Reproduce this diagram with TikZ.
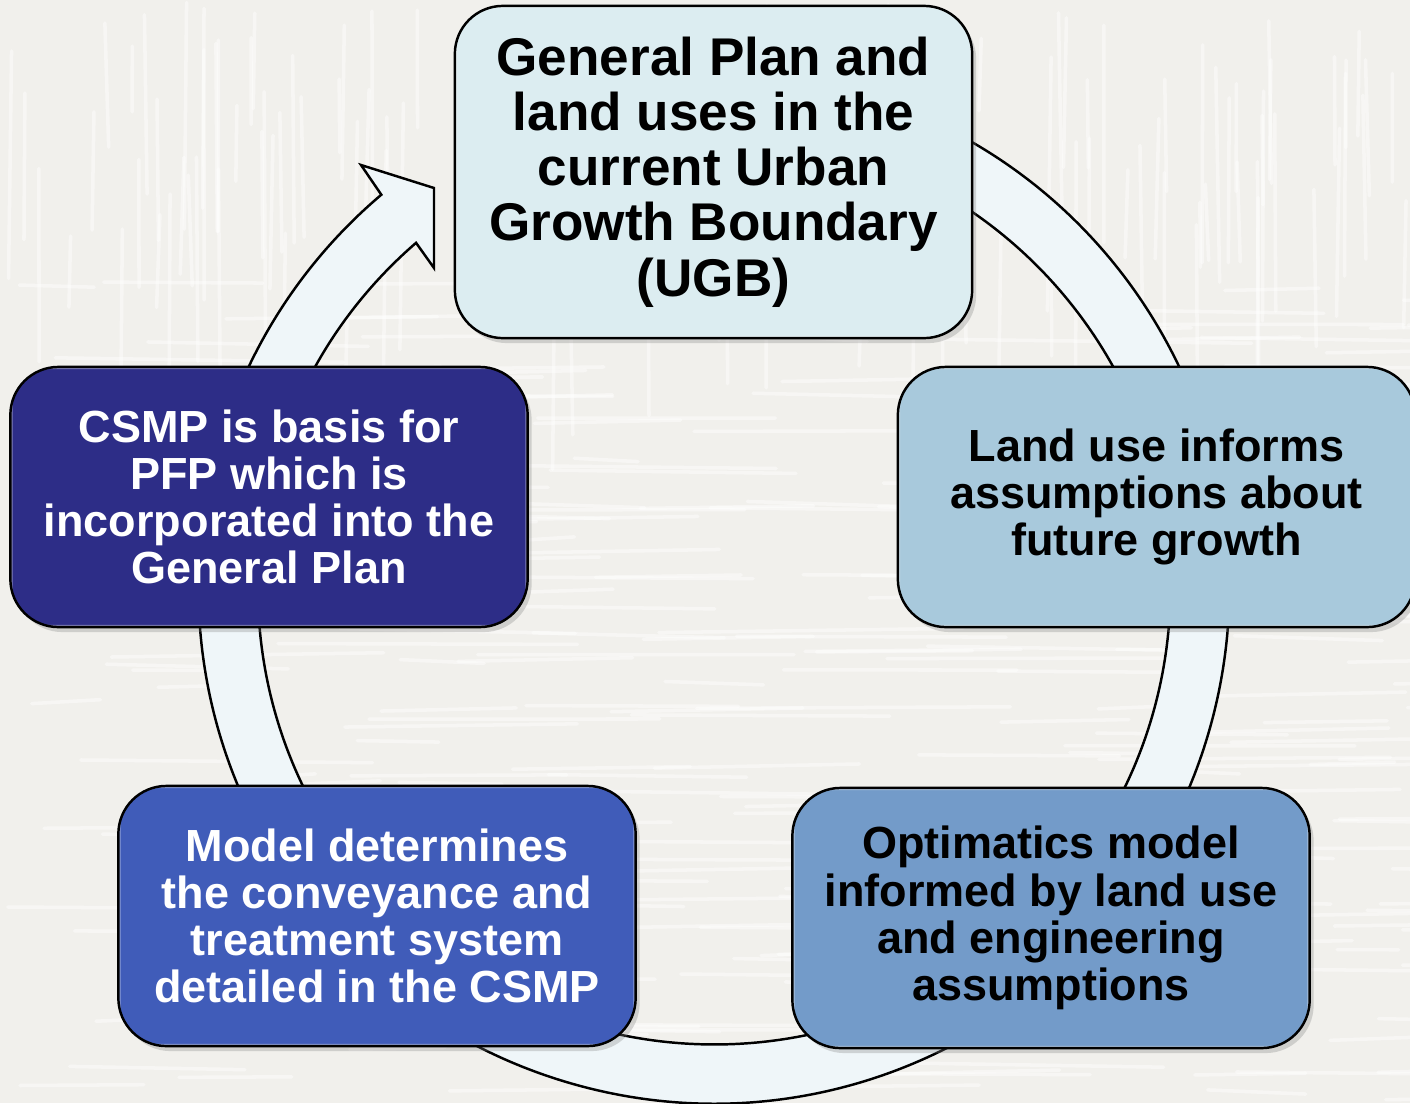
\documentclass[tikz,border=0pt]{standalone}
\usepackage{fontspec}
\setmainfont{Liberation Sans}
\usetikzlibrary{positioning,calc,shadows}

\definecolor{paper}{RGB}{241,240,236}
\definecolor{ringfill}{RGB}{239,246,249}
\definecolor{planfill}{RGB}{220,237,241}
\definecolor{landfill}{RGB}{168,201,220}
\definecolor{optfill}{RGB}{115,155,201}
\definecolor{modelfill}{RGB}{64,92,185}
\definecolor{csmpfill}{RGB}{45,45,135}

\tikzset{
  stagebox/.style={draw=black, line width=0.7pt, rounded corners=0.48cm,
    minimum width=5.17cm, minimum height=2.6cm, inner sep=0pt, align=center,
    font=\bfseries\fontsize{12.8}{13.4}\selectfont,
    drop shadow={opacity=0.3, shadow xshift=0.04cm, shadow yshift=-0.05cm},
    path picture={\draw[white, opacity=0.4, line width=1.2pt, rounded corners=0.4cm]
      ($(path picture bounding box.south west)+(0.07,0.07)$) rectangle
      ($(path picture bounding box.north east)-(0.07,0.07)$);}},
  cyclearrow/.style={draw=black, line width=0.7pt, fill=ringfill, line join=miter},
  grain/.style={white, opacity=0.45, line width=1pt, line cap=round}
}

\begin{document}
\begin{tikzpicture}[x=0.01cm, y=0.01cm]
% paper background
\fill[paper] (0,0) rectangle (1410,-1103);
\useasboundingbox (0,0) rectangle (1410,-1103);

% wood grain
\pgfmathsetseed{42}
\foreach \i in {1,...,130} {
    \pgfmathsetmacro{\gx}{rnd*1410}
    \pgfmathsetmacro{\gy}{rnd*240}
    \pgfmathsetmacro{\gl}{60+rnd*200}
    \draw[grain] (\gx,-\gy) -- ++(rnd*8-4,-\gl);
}
\foreach \i in {1,...,280} {
    \pgfmathsetmacro{\gx}{rnd*1410}
    \pgfmathsetmacro{\gy}{280+rnd*820}
    \pgfmathsetmacro{\gl}{60+rnd*260}
    \draw[grain] (\gx,-\gy) -- ++(\gl,rnd*10-5);
}

% cycle arrow
\coordinate (hub) at (714,-588);
\coordinate (barb) at (361,-165);
\coordinate (tipa) at (434,-188);
\coordinate (tipb) at (434,-268);
\draw[cyclearrow] ($(hub)+(75:515)$) arc[start angle=75, end angle=-229.8, radius=5.15cm]
    -- (barb) -- (tipa) -- (tipb) -- ($(hub)+(130.8:456)$)
    arc[start angle=-229.2, end angle=75, radius=4.56cm] -- cycle;

% stages
\node[stagebox, fill=planfill, minimum height=3.32cm,
    font=\bfseries\fontsize{15.1}{15.7}\selectfont] (plan) at (713.5,-172)
    {General Plan and\\land uses in the\\current Urban\\Growth Boundary\\(UGB)};
\node[stagebox, fill=landfill] (land) at (1156.5,-497)
    {Land use informs\\assumptions about\\future growth};
\node[stagebox, fill=optfill] (opt) at (1051,-918)
    {Optimatics model\\informed by land use\\and engineering\\assumptions};
\node[stagebox, fill=modelfill, text=white] (model) at (377,-916)
    {Model determines\\the conveyance and\\treatment system\\detailed in the CSMP};
\node[stagebox, fill=csmpfill, text=white] (csmp) at (269,-497)
    {CSMP is basis for\\PFP which is\\incorporated into the\\General Plan};
\end{tikzpicture}
\end{document}
